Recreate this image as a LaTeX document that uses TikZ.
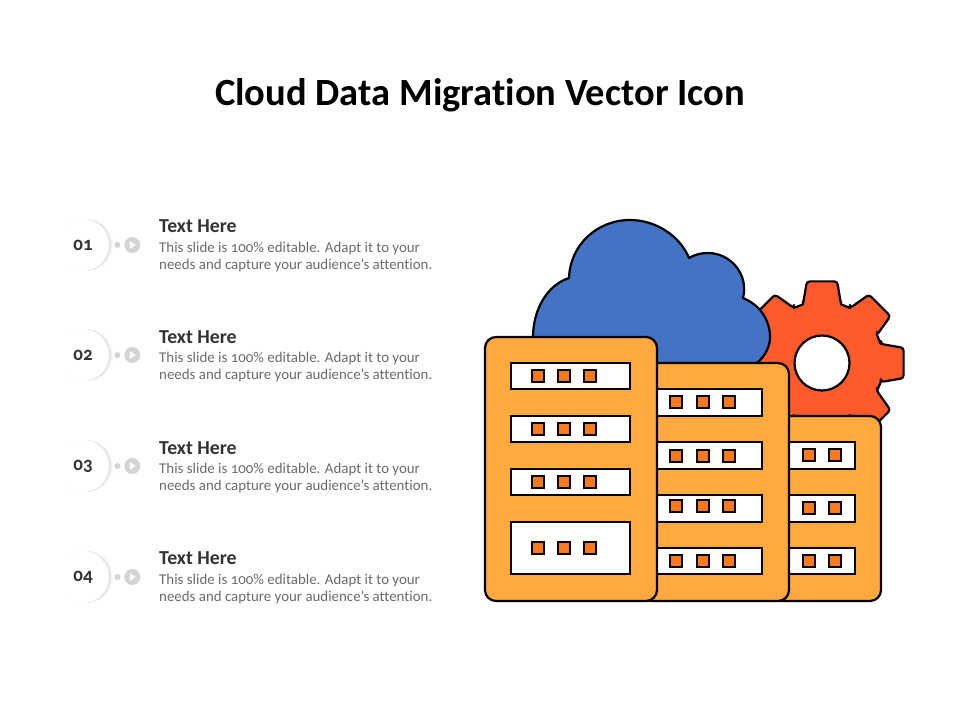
\documentclass[tikz,border=0pt]{standalone}
\usepackage{fontspec}
\setmainfont[Numbers=OldStyle,Ligatures=NoCommon]{Carlito}
\usetikzlibrary{positioning}

\definecolor{rackfill}{HTML}{FFA93F}
\definecolor{portfill}{HTML}{F97A1C}
\definecolor{gearfill}{HTML}{FF5A2C}
\definecolor{cloudfill}{HTML}{4472C4}
\definecolor{headtext}{HTML}{333333}
\definecolor{bodytext}{HTML}{6A6A6A}
\definecolor{marker}{HTML}{D4D4D4}

\begin{document}
\begin{tikzpicture}[
  x=1pt,y=-1pt,
  outline/.style={draw=black,line width=2.2pt,line join=round},
  title/.style={inner sep=0pt,font=\bfseries\fontsize{38.5}{42}\selectfont,text=black},
  badge/.style={circle,fill=white,minimum size=52pt,inner sep=0pt,font=\bfseries\fontsize{19}{21}\selectfont,text=headtext},
  dotmark/.style={circle,fill=marker,minimum size=6pt,inner sep=0pt},
  playmark/.style={circle,fill=marker,minimum size=16pt,inner sep=0pt},
  heading/.style={inner sep=0pt,font=\bfseries\fontsize{19.8}{22}\selectfont,text=headtext},
  body/.style={inner sep=0pt,align=left,font=\fontsize{14.9}{17}\selectfont,text=bodytext},
  rack/.style={outline,fill=rackfill,rounded corners=11pt},
  slot/.style={outline,line join=miter,fill=white,inner sep=0pt},
  port/.style={outline,line join=miter,line width=2pt,fill=portfill,minimum size=12.5pt,inner sep=0pt},
  hole/.style={outline,circle,fill=white,minimum size=55pt,inner sep=0pt},
]
  \useasboundingbox (0,0) rectangle (960,720);

  % Title
  \node[title] (heading0) at (480,95.5) {Cloud Data Migration Vector Icon};

  % Row shadows
  \fill[black!3] (87,245) circle (26);
  \fill[black!7] (85.5,245) circle (26);
  \fill[black!12] (84.3,245) circle (26);
  \fill[black!3] (87,355) circle (26);
  \fill[black!7] (85.5,355) circle (26);
  \fill[black!12] (84.3,355) circle (26);
  \fill[black!3] (87,466) circle (26);
  \fill[black!7] (85.5,466) circle (26);
  \fill[black!12] (84.3,466) circle (26);
  \fill[black!3] (87,577) circle (26);
  \fill[black!7] (85.5,577) circle (26);
  \fill[black!12] (84.3,577) circle (26);

  % Row badges
  \node[badge] (badge1) at (83,245) {\raisebox{-2pt}{01}};
  \node[badge] (badge2) at (83,355) {\raisebox{-2pt}{02}};
  \node[badge] (badge3) at (83,466) {\raisebox{-2pt}{03}};
  \node[badge] (badge4) at (83,577) {\raisebox{-2pt}{04}};

  % Row markers
  \node[dotmark,right=5pt of badge1] (dot1) {};
  \node[playmark,right=3.5pt of dot1] (play1) {};
  \node[dotmark,right=5pt of badge2] (dot2) {};
  \node[playmark,right=3.5pt of dot2] (play2) {};
  \node[dotmark,right=5pt of badge3] (dot3) {};
  \node[playmark,right=3.5pt of dot3] (play3) {};
  \node[dotmark,right=5pt of badge4] (dot4) {};
  \node[playmark,right=3.5pt of dot4] (play4) {};
  \fill[white] ([shift={(-2.5pt,4pt)}]play1.center) -- ([shift={(-2.5pt,-4pt)}]play1.center) -- ([shift={(3.5pt,0pt)}]play1.center) -- cycle;
  \fill[white] ([shift={(-2.5pt,4pt)}]play2.center) -- ([shift={(-2.5pt,-4pt)}]play2.center) -- ([shift={(3.5pt,0pt)}]play2.center) -- cycle;
  \fill[white] ([shift={(-2.5pt,4pt)}]play3.center) -- ([shift={(-2.5pt,-4pt)}]play3.center) -- ([shift={(3.5pt,0pt)}]play3.center) -- cycle;
  \fill[white] ([shift={(-2.5pt,4pt)}]play4.center) -- ([shift={(-2.5pt,-4pt)}]play4.center) -- ([shift={(3.5pt,0pt)}]play4.center) -- cycle;

  % Row texts
  \node[heading,anchor=west] (heading1) at (159,226) {Text Here};
  \node[body,below=9pt of heading1.south west,anchor=north west] (body1) {This slide is 100\% editable. Adapt it to your\\needs and capture your audience's attention.};
  \node[heading,anchor=west] (heading2) at (159,337) {Text Here};
  \node[body,below=8pt of heading2.south west,anchor=north west] (body2) {This slide is 100\% editable. Adapt it to your\\needs and capture your audience's attention.};
  \node[heading,anchor=west] (heading3) at (159,448) {Text Here};
  \node[body,below=8pt of heading3.south west,anchor=north west] (body3) {This slide is 100\% editable. Adapt it to your\\needs and capture your audience's attention.};
  \node[heading,anchor=west] (heading4) at (159,558) {Text Here};
  \node[body,below=9pt of heading4.south west,anchor=north west] (body4) {This slide is 100\% editable. Adapt it to your\\needs and capture your audience's attention.};

  % Gear
  \draw[outline,fill=gearfill,shift={(822,363)}] (-18:61.7)
    foreach \a in {0,45,...,315} {
      [rounded corners=3pt] -- ({\a-18}:61.7) -- ({\a-10.5}:83) -- ({\a+10.5}:83) -- ({\a+18}:61.7) [sharp corners] -- ({\a+18}:61.7) -- ({\a+27}:61.7)
    } -- cycle;
  \node[hole] (gearhole) at (822,363) {};

  % Cloud
  \draw[outline,fill=cloudfill] (533,370) -- (533,337)
    .. controls (533,310) and (547,285) .. (569,278)
    .. controls (570,245) and (597,220) .. (630,220)
    .. controls (656,220) and (680,236) .. (689,258)
    .. controls (696,254) and (702,253) .. (708,253)
    .. controls (731,253) and (749,275) .. (743,298)
    .. controls (760,305) and (770,320) .. (770,337)
    .. controls (770,347) and (765,356) .. (757,363)
    -- (757,370) -- cycle;

  % Back rack
  \draw[rack] (770,416) rectangle (881,601);
  \draw[slot] (770,442) rectangle (855,469);
  \draw[slot] (770,495) rectangle (855,522);
  \draw[slot] (770,548) rectangle (855,574);
  \node[port] (c1a) at (809,455) {}; \node[port] (c1b) at (835,455) {};
  \node[port] (c2a) at (809,508) {}; \node[port] (c2b) at (835,508) {};
  \node[port] (c3a) at (809,561) {}; \node[port] (c3b) at (835,561) {};

  % Middle rack
  \draw[rack] (640,363) rectangle (789,601);
  \draw[slot] (640,389) rectangle (762,416);
  \draw[slot] (640,442) rectangle (762,469);
  \draw[slot] (640,495) rectangle (762,522);
  \draw[slot] (640,548) rectangle (762,574);
  \node[port] (b1a) at (676,402) {}; \node[port] (b1b) at (703,402) {}; \node[port] (b1c) at (729,402) {};
  \node[port] (b2a) at (676,456) {}; \node[port] (b2b) at (703,456) {}; \node[port] (b2c) at (729,456) {};
  \node[port] (b3a) at (676,506) {}; \node[port] (b3b) at (703,506) {}; \node[port] (b3c) at (729,506) {};
  \node[port] (b4a) at (676,561) {}; \node[port] (b4b) at (703,561) {}; \node[port] (b4c) at (729,561) {};

  % Front rack
  \draw[rack] (485,337) rectangle (657,601);
  \draw[slot] (511,363) rectangle (630,389);
  \draw[slot] (511,416) rectangle (630,442);
  \draw[slot] (511,469) rectangle (630,495);
  \draw[slot] (511,522) rectangle (630,574);
  \node[port] (a1a) at (538,376) {}; \node[port] (a1b) at (564,376) {}; \node[port] (a1c) at (590,376) {};
  \node[port] (a2a) at (538,429) {}; \node[port] (a2b) at (564,429) {}; \node[port] (a2c) at (590,429) {};
  \node[port] (a3a) at (538,482) {}; \node[port] (a3b) at (564,482) {}; \node[port] (a3c) at (590,482) {};
  \node[port] (a4a) at (538,548) {}; \node[port] (a4b) at (564,548) {}; \node[port] (a4c) at (590,548) {};
\end{tikzpicture}
\end{document}
